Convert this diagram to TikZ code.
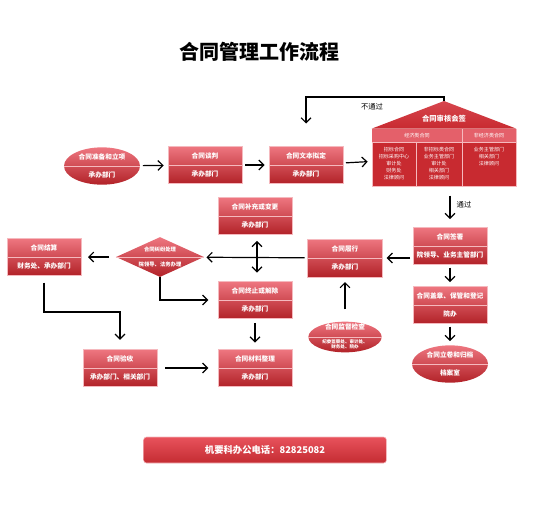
\documentclass[tikz,border=0pt]{standalone}
\usepackage{fontspec}
\setmainfont{Noto Sans CJK SC}
\usetikzlibrary{arrows.meta,shapes.geometric,calc}
\definecolor{boxtop}{RGB}{238,118,128}
\definecolor{boxbot}{RGB}{178,34,40}
\definecolor{boxedge}{RGB}{245,185,190}
\definecolor{housered}{RGB}{200,42,48}
\definecolor{headred}{RGB}{228,96,106}
\definecolor{rooftop}{RGB}{215,70,78}
\newcommand{\tinydept}{\fontsize{3.4}{4.4}\selectfont}

\begin{document}
\begin{tikzpicture}[x=0.75pt,y=-0.75pt,
  box/.style={draw=boxedge, line width=0.5pt, top color=boxtop, bottom color=boxbot, minimum width=55.5pt, minimum height=27.75pt, align=center, text=white, inner sep=1pt, font=\fontsize{5}{13.9}\selectfont\bfseries},
  oval/.style={box, ellipse, draw=none, inner sep=0pt, minimum width=57pt, minimum height=28pt},
  gem/.style={box, diamond, draw=none, aspect=2.2, inner sep=0pt, minimum width=66pt, minimum height=30pt, font=\fontsize{4}{11}\selectfont\bfseries},
  small/.style={text=white, align=center, inner sep=0pt, font=\fontsize{3.8}{5.25}\selectfont},
  divline/.style={draw=boxedge, line width=0.5pt},
  arr/.style={-{Straight Barb[length=1.3mm,width=2.6mm]}, line width=0.9pt, shorten <=2pt, shorten >=3pt},
  lbl/.style={font=\fontsize{5.5}{6}\selectfont},
  bar/.style={rounded corners=2pt, draw=boxedge, top color={rgb,255:red,232;green,82;blue,92}, bottom color={rgb,255:red,196;green,44;blue,50}, minimum width=182pt, minimum height=19.5pt, text=white, font=\fontsize{7}{8}\selectfont\bfseries}
]
  \useasboundingbox (0,0) rectangle (534,515);

  \node[font=\fontsize{15}{16}\selectfont\bfseries] (title) at (259,52) {合同管理工作流程};

  \node[oval] (prep) at (102,166) {合同准备和立项\\承办部门};
  \node[box] (tan) at (205,165) {合同谈判\\承办部门};
  \node[box] (txt) at (306,165) {合同文本拟定\\承办部门};

  \node[draw=boxedge, line width=0.5pt, fill=housered, minimum width=108pt, minimum height=42.75pt] (audit) at (444,157.5) {};
  \coordinate (apex) at (444,101);
  \shade[top color=rooftop, bottom color=housered] (audit.north west) -- (apex) -- (audit.north east) -- cycle;
  \fill[headred] (audit.north west) rectangle (516,142);
  \draw[divline] (372,142) -- (516,142);
  \draw[divline] (416,142) -- (416,186);
  \draw[divline] (462,129) -- (462,186);
  \node[lbl, text=white, font=\fontsize{5.5}{6}\selectfont\bfseries] (auditT) at (444,119) {合同审核会签};
  \node[small] (ecoH) at (417,135.5) {经济类合同};
  \node[small] (nonH) at (489,135.5) {非经济类合同};
  \node[small] (colA) at (394,164) {招标合同\\招标采购中心\\审计处\\财务处\\法律顾问};
  \node[small] (colB) at (439,164) {非招标类合同\\业务主管部门\\审计处\\相关部门\\法律顾问};
  \node[small] (colC) at (489,157) {业务主管部门\\相关部门\\法律顾问};

  \node[box] (sign) at (450,246) {合同签署\\院领导、业务主管部门};
  \node[box] (seal) at (450,305) {合同盖章、保管和登记\\院办};
  \node[oval] (arch) at (450,364) {合同立卷和归档\\档案室};
  \node[box, minimum width=56pt, minimum height=28.5pt] (perf) at (345,258) {合同履行\\承办部门};
  \node[oval, minimum width=55pt, minimum height=23pt, inner ysep=-3pt, font=\fontsize{5}{10.5}\selectfont\bfseries] (sup) at (345,337) {合同监督检查\\{\tinydept\begin{tabular}[t]{@{}c@{}}纪委监察处、审计处、\\财务处、院办\end{tabular}}};
  \node[box] (chg) at (255,216) {合同补充或变更\\承办部门};
  \node[box] (term) at (255,300) {合同终止或解除\\承办部门};
  \node[gem] (disp) at (160,257) {合同纠纷处理\\院领导、法务办理};
  \node[box] (settle) at (44,257) {合同结算\\财务处、承办部门};
  \node[box] (acc) at (120,368) {合同验收\\承办部门、相关部门};
  \node[box] (mat) at (255,368) {合同材料整理\\承办部门};

  \foreach \n in {prep,tan,txt,sign,seal,arch,perf,sup,chg,term,disp,settle,acc,mat}
    \draw[divline] (\n.west) -- (\n.east);

  \draw[arr] (prep) -- (tan);
  \draw[arr] (tan) -- (txt);
  \draw[arr] (txt) -- (audit);
  \draw[arr, shorten <=0pt, shorten >=17pt] (apex) -- ++(0,-4) -| (txt.north);
  \node[lbl] (nopass) at (372,107) {不通过};
  \draw[arr, shorten <=7pt, shorten >=6pt] (audit.south -| sign.north) -- (sign.north);
  \node[lbl] (pass) at (464,205) {通过};
  \draw[arr] (sign) -- (seal);
  \draw[arr] (seal) -- (arch);
  \draw[arr] (sign.west |- perf) -- (perf);
  \draw[arr, shorten >=2pt] (perf) -- (disp);
  \draw[{Straight Barb[length=1.3mm,width=2.6mm]}-{Straight Barb[length=1.3mm,width=2.6mm]}, line width=0.9pt, shorten <=4.5pt, shorten >=6.5pt] ([xshift=1.5pt]chg.south) -- ([xshift=1.5pt]term.north);
  \draw[arr, shorten <=5pt, shorten >=5pt] (disp) -- (settle);
  \draw[arr, shorten <=0pt, shorten >=7pt] (disp.south) |- (term.west);
  \coordinate (elbow) at (120,312);
  \draw[arr, shorten <=5pt, shorten >=7pt] (settle.south) |- (elbow) -| (acc.north);
  \draw[arr, shorten <=6pt, shorten >=7pt] (acc) -- (mat);
  \draw[arr, shorten <=3pt, shorten >=5pt] (term) -- (mat);
  \draw[arr, shorten <=9pt, shorten >=3.5pt] (sup) -- (perf);

  \node[bar] (phone) at (265,450) {机要科办公电话：82825082};
\end{tikzpicture}
\end{document}
